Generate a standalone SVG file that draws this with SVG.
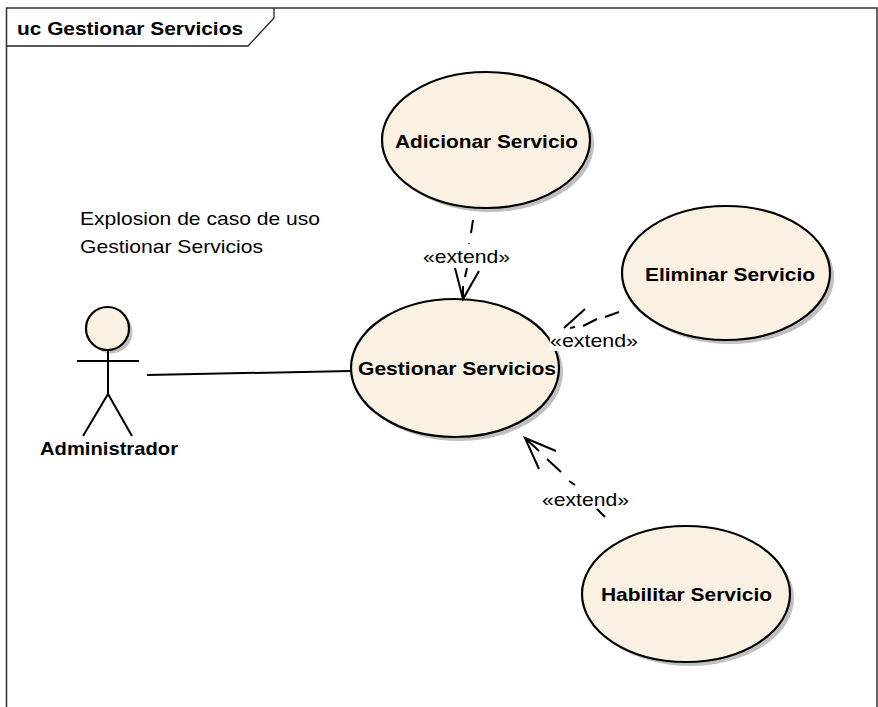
<svg xmlns="http://www.w3.org/2000/svg" width="878" height="707" viewBox="0 0 878 707">
<style>
.u{fill:#fbf1e3;stroke:#000;stroke-width:2.2}
.s{fill:#c0c0c0;stroke:none}
.l{fill:none;stroke:#000;stroke-width:2}
.d{fill:none;stroke:#000;stroke-width:2}
text{font-family:"Liberation Sans",Arial,sans-serif;fill:#000}
.b{font-weight:bold;font-size:19px;text-anchor:middle}
.n{font-size:19px}
.e{font-size:19px;text-anchor:middle}
</style>
<rect width="878" height="707" fill="#fff"/>
<g id="frame">
<path d="M6.500 707V8H877V707" fill="none" stroke="#333" stroke-width="1.500"/>
<path d="M6.500 46H248L274 18V8" fill="none" stroke="#222" stroke-width="1.300"/>
<text x="17" y="35" font-weight="bold" font-size="19" textLength="226" lengthAdjust="spacingAndGlyphs">uc Gestionar Servicios</text>
</g>
<g id="note"><text class="n" x="80" y="225" textLength="240" lengthAdjust="spacingAndGlyphs">Explosion de caso de uso</text><text class="n" x="80" y="253" textLength="183" lengthAdjust="spacingAndGlyphs">Gestionar Servicios</text></g>
<g id="uc-adicionar"><ellipse class="s" cx="490" cy="144" rx="104" ry="68"/><ellipse class="u" cx="486" cy="140" rx="104" ry="68"/><text class="b" x="486.500" y="148" textLength="183" lengthAdjust="spacingAndGlyphs">Adicionar Servicio</text></g>
<g id="uc-eliminar"><ellipse class="s" cx="730" cy="277" rx="104" ry="67"/><ellipse class="u" cx="726" cy="273" rx="104" ry="67"/><text class="b" x="730" y="281" textLength="170" lengthAdjust="spacingAndGlyphs">Eliminar Servicio</text></g>
<g id="uc-gestionar"><ellipse class="s" cx="459" cy="372" rx="104" ry="69"/><ellipse class="u" cx="455" cy="368" rx="104" ry="69"/><text class="b" x="457" y="375" textLength="198" lengthAdjust="spacingAndGlyphs">Gestionar Servicios</text></g>
<g id="uc-habilitar"><ellipse class="s" cx="690" cy="598" rx="104" ry="68"/><ellipse class="u" cx="686" cy="594" rx="104" ry="68"/><text class="b" x="686.500" y="601" textLength="171" lengthAdjust="spacingAndGlyphs">Habilitar Servicio</text></g>
<g id="actor-administrador"><circle class="s" cx="111" cy="332" r="21.500"/><circle class="u" cx="107.500" cy="328.500" r="21.500"/><path class="l" d="M108 350V394M77 361H139M108 394L83 436M108 394L132 436"/><text class="b" x="109" y="455" textLength="138" lengthAdjust="spacingAndGlyphs">Administrador</text></g>
<g id="connectors">
<path class="l" d="M147 375L351 371"/>
<path class="d" d="M473 220L471 233M469 243V243.800M467 268L465 277M463 286V299"/>
<path class="l" d="M455 268L463 299L479 271"/>
<path class="d" d="M619 312L605 317M597 319L583 326M575 327L570 328"/>
<path class="l" d="M585 309L564 328"/>
<path class="d" d="M605 517L597 509M575 485L569 481M561 472L547 459M539 451L525 438"/>
<path class="l" d="M556 451L525 438L539 469"/>
</g>
<g id="labels">
<rect x="550" y="333" width="88" height="18" fill="#fff"/>
<text class="e" x="466.500" y="263" textLength="87" lengthAdjust="spacingAndGlyphs">«extend»</text>
<text class="e" x="594" y="347" textLength="88" lengthAdjust="spacingAndGlyphs">«extend»</text>
<text class="e" x="585.500" y="506" textLength="87" lengthAdjust="spacingAndGlyphs">«extend»</text>
</g>
</svg>
